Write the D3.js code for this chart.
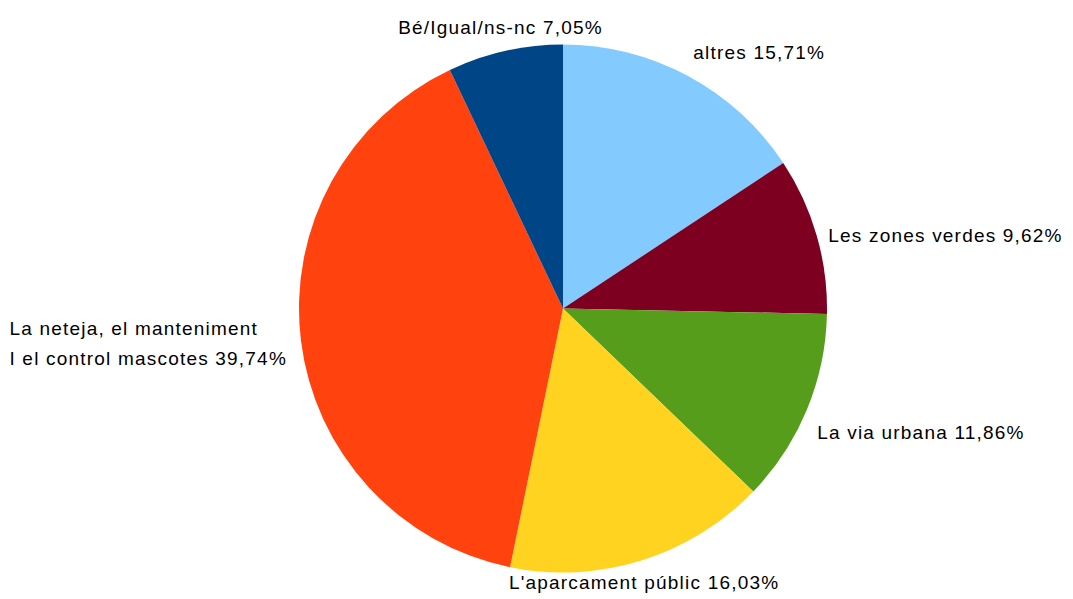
<!DOCTYPE html>
<html>
<head>
<meta charset="utf-8">
<script src="https://cdn.jsdelivr.net/npm/d3@7"></script>
<style>
  html, body { margin: 0; padding: 0; background: #ffffff; }
  svg { display: block; }
  text { font-family: "Liberation Sans", Arial, sans-serif; font-size: 19px; letter-spacing: 1.2px; fill: #000; }
</style>
</head>
<body>
<svg id="chart" width="1073" height="599"></svg>
<script>
// Categories (clockwise from 12 o'clock) and their shares in percent
const categories = [
  "altres",
  "Les zones verdes",
  "La via urbana",
  "L'aparcament públic",
  "La neteja, el manteniment\nI el control mascotes",
  "Bé/Igual/ns-nc"
];
const values = [15.71, 9.62, 11.86, 16.03, 39.74, 7.05];
const colors = ["#83caff", "#7e0021", "#579d1c", "#ffd320", "#ff420e", "#004586"];

// Label placement relative to the slice's outer mid-point
const labelLayout = [
  { anchor: "start",  dx: 1,    dy: -9 },
  { anchor: "start",  dx: 3,    dy: 9 },
  { anchor: "start",  dx: 2,    dy: 26 },
  { anchor: "middle", dx: 0,    dy: 20 },
  { anchor: "end",    dx: -5,   dy: -6 },
  { anchor: "middle", dx: -2.5, dy: -8 }
];

const cx = 563, cy = 308.5, radius = 264, labelGap = 9, lineHeight = 30;
const fmt = v => d3.format(".2f")(v).replace(".", ",") + "%";

const svg = d3.select("#chart");
const g = svg.append("g").attr("transform", `translate(${cx},${cy})`);

const data = categories.map((c, i) => ({ name: c, value: values[i], color: colors[i], layout: labelLayout[i] }));

const pie = d3.pie().value(d => d.value).sort(null);
const arc = d3.arc().innerRadius(0).outerRadius(radius);
const arcs = pie(data);

g.selectAll("path.slice")
  .data(arcs)
  .join("path")
  .attr("class", "slice")
  .attr("d", arc)
  .attr("fill", d => d.data.color);

const labels = g.selectAll("text.label")
  .data(arcs)
  .join("text")
  .attr("class", "label")
  .attr("transform", d => {
    const a = (d.startAngle + d.endAngle) / 2;
    const r = radius + labelGap;
    const x = r * Math.sin(a) + d.data.layout.dx;
    const y = -r * Math.cos(a) + d.data.layout.dy;
    return `translate(${x},${y})`;
  });

// Each label is a left-aligned block; the block itself is placed by its anchor
labels.each(function(d) {
  const lines = (d.data.name + " " + fmt(d.data.value)).split("\n");
  const t = d3.select(this).attr("text-anchor", "start");
  const spans = lines.map((line, i) =>
    t.append("tspan").attr("dy", i === 0 ? 0 : lineHeight).text(line));
  const blockW = d3.max(spans, s => s.node().getComputedTextLength());
  const anchor = d.data.layout.anchor;
  const x0 = anchor === "end" ? -blockW : anchor === "middle" ? -blockW / 2 : 0;
  spans.forEach(s => s.attr("x", x0));
});
</script>
</body>
</html>
